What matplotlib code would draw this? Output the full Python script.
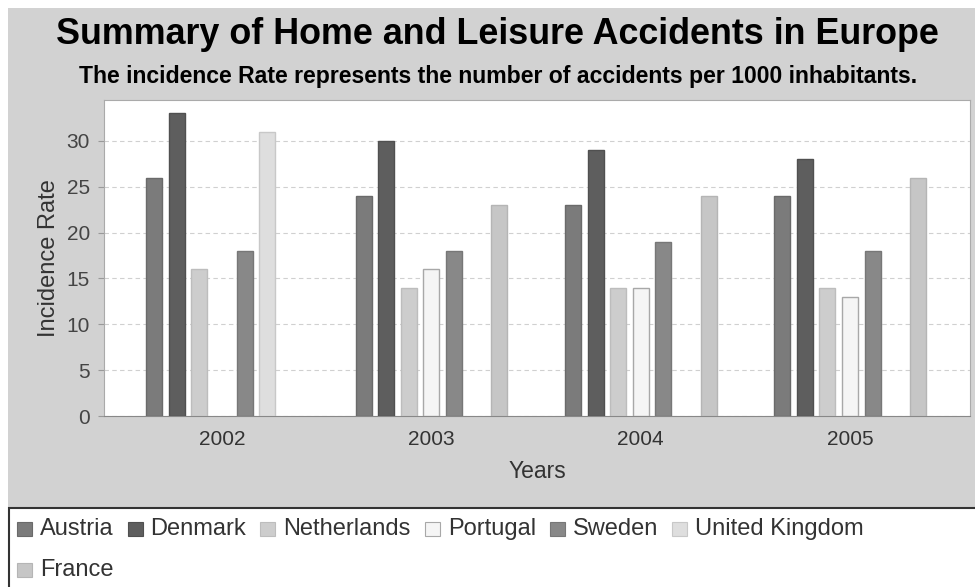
import matplotlib

matplotlib.use("Agg")
import matplotlib.pyplot as plt
import numpy as np
from matplotlib.patches import Rectangle

plt.rcParams["font.family"] = ["Liberation Sans", "DejaVu Sans"]

years = ["2002", "2003", "2004", "2005"]
countries = ["Austria", "Denmark", "Netherlands", "Portugal", "Sweden",
             "United Kingdom", "France"]
# incidence per 1000 inhabitants; None = no figure reported that year
austria = [26, 24, 23, 24]
denmark = [33, 30, 29, 28]
netherlands = [16, 14, 14, 14]
portugal = [None, 16, 14, 13]
sweden = [18, 18, 19, 18]
united_kingdom = [31, None, None, None]
france = [None, 23, 24, 26]
series = [austria, denmark, netherlands, portugal, sweden, united_kingdom, france]

fills = ["#7b7b7b", "#5e5e5e", "#cdcdcd", "#f5f5f5", "#888888", "#dedede", "#c6c6c6"]
edges = ["#6a6a6a", "#505050", "#bdbdbd", "#a8a8a8", "#777777", "#c8c8c8", "#b5b5b5"]

W, H = 975, 587
fig = plt.figure(figsize=(W / 100, H / 100), dpi=100, facecolor="white")


def px(x0, y0, x1, y1):
    """pixel box (top-left origin) -> figure fraction rect"""
    return [x0 / W, 1 - y1 / H, (x1 - x0) / W, (y1 - y0) / H]


# grey chart panel
fig.patches.append(Rectangle((8 / W, 1 - 507 / H), 1, (507 - 8) / H,
                             transform=fig.transFigure, facecolor="#d2d2d2",
                             edgecolor="none", zorder=-2))

ax = fig.add_axes(px(104, 100, 970, 416))
ax.set_zorder(2)
ax.set_facecolor("white")

x = np.arange(len(years))
step, width = 0.108, 0.0765
for i, (name, vals) in enumerate(zip(countries, series)):
    idx = [j for j, v in enumerate(vals) if v is not None]
    ax.bar(x[idx] + (i - 3) * step, [vals[j] for j in idx], width,
           color=fills[i], edgecolor=edges[i], linewidth=1.0, zorder=3)

ax.set_xlim(-0.564, 3.573)
ax.set_ylim(0, 34.45)
ax.set_yticks(range(0, 31, 5))
ax.set_xticks(x)
ax.set_xticklabels(years)
ax.grid(axis="y", color="#d0d0d0", linestyle=(0, (4, 3)), linewidth=0.8, zorder=1)
ax.tick_params(axis="y", colors="#999999", labelcolor="#444444", labelsize=15,
               length=4, width=0.8, pad=6)
ax.tick_params(axis="x", length=0, labelcolor="#333333", labelsize=15, pad=10)
for side in ["top", "right", "left"]:
    ax.spines[side].set_color("#aaaaaa")
ax.spines["bottom"].set_color("#888888")
ax.set_ylabel("Incidence Rate", fontsize=17, color="#333333", labelpad=5)
ax.set_xlabel("Years", fontsize=16.5, color="#333333", labelpad=8)

fig.text(497 / W, 1 - 34 / H, "Summary of Home and Leisure Accidents in Europe",
         ha="center", va="center", fontsize=25.8, fontweight="bold", color="black")
fig.text(498 / W, 1 - 76 / H,
         "The incidence Rate represents the number of accidents per 1000 inhabitants.",
         ha="center", va="center", fontsize=16.6, fontweight="bold", color="black")

# legend panel below the chart, items flow left to right and wrap
fig.patches.append(Rectangle((9 / W, -0.1), 1, 0.1 + (587 - 508) / H,
                             transform=fig.transFigure, facecolor="white",
                             edgecolor="#333333", linewidth=1.5, zorder=1))
renderer = fig.canvas.get_renderer()
cx, row_y = 17, 529
for i, name in enumerate(countries):
    t = fig.text(0, 0, name, fontsize=17, color="#333333", va="center", ha="left")
    tw = t.get_window_extent(renderer).width
    if cx + 23 + tw > W - 5:
        cx, row_y = 17, 570
    fig.patches.append(Rectangle((cx / W, 1 - (row_y + 7) / H), 15 / W, 14 / H,
                                 transform=fig.transFigure, facecolor=fills[i],
                                 edgecolor=edges[i], linewidth=0.8, zorder=2))
    t.set_position(((cx + 23) / W, 1 - row_y / H))
    cx += 23 + tw + 14

fig.savefig("out.png", dpi=100, facecolor="white")
